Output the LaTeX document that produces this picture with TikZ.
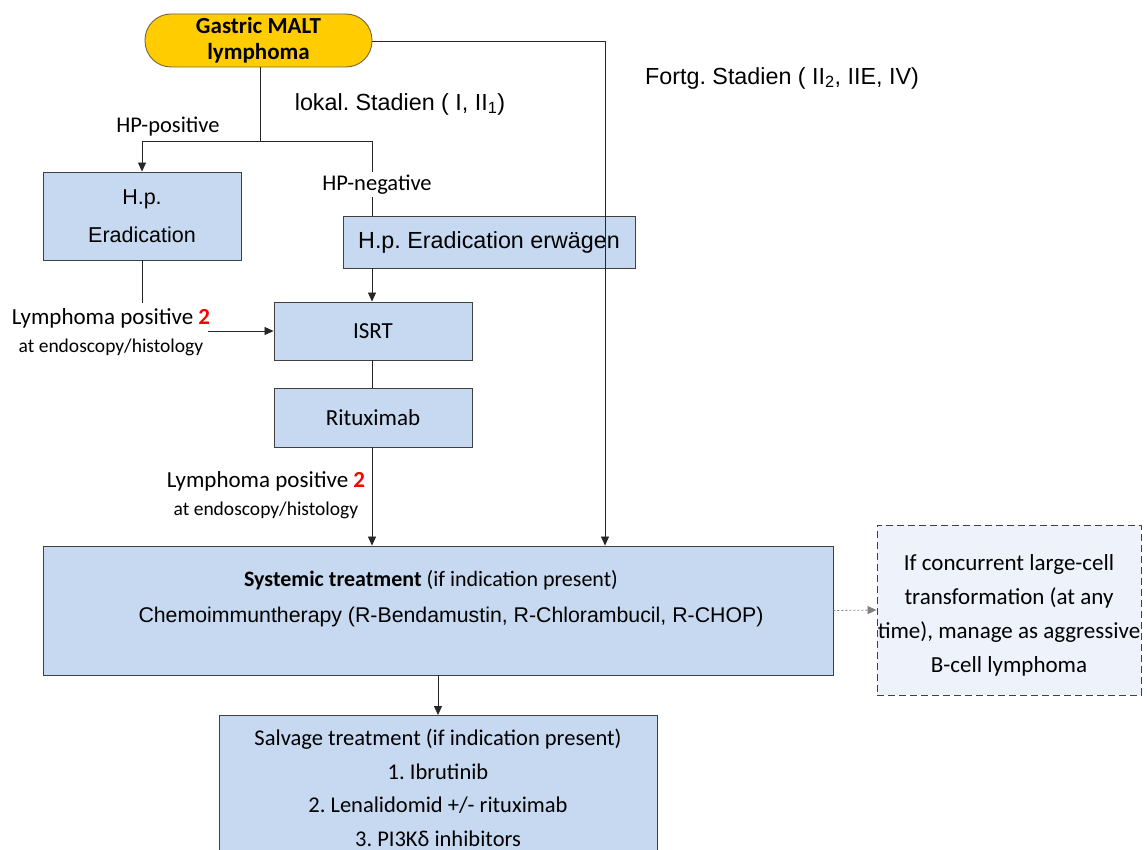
\documentclass[tikz,border=0pt]{standalone}
\usepackage{fontspec}
\setmainfont{Carlito}
\newfontfamily\arialf{Liberation Sans}
\usetikzlibrary{arrows.meta}
\definecolor{boxfill}{RGB}{198,217,240}
\definecolor{boxline}{RGB}{64,64,64}
\definecolor{pillfill}{RGB}{255,204,0}
\definecolor{pillline}{RGB}{120,100,60}
\definecolor{transfill}{RGB}{238,242,250}
\tikzset{
  box/.style={draw=boxline, fill=boxfill, line width=0.9pt, inner sep=0pt, align=center},
  pill/.style={draw=pillline, fill=pillfill, line width=0.9pt, rounded corners=26pt, inner sep=0pt, align=center, font=\fontsize{23}{26}\selectfont\bfseries},
  lbl/.style={inner sep=0pt, align=center},
  conn/.style={draw=black!85, line width=0.8pt},
  arr/.style={conn, -{Triangle[length=9pt,width=8pt]}},
}
\frenchspacing
\begin{document}
\begin{tikzpicture}[x=1pt,y=-1pt]
\useasboundingbox (0,0) rectangle (1147,850);
\clip (0,0) rectangle (1147,850);
\fill[white] (0,0) rectangle (1147,850);

% nodes
\node[pill, minimum width=227, minimum height=53] (start) at (258.5,40.5) {Gastric MALT\\lymphoma};
\node[box, minimum width=198, minimum height=88, font=\arialf\fontsize{21.5}{38}\selectfont] (hpe) at (142,216) {H.p.\\Eradication};
\node[box, minimum width=292, minimum height=52, font=\arialf\fontsize{23.3}{26}\selectfont] (erw) at (489,242) {H.p. Eradication erw\"agen};
\node[box, minimum width=198, minimum height=58, font=\fontsize{23}{26}\selectfont] (isrt) at (373,331) {ISRT};
\node[box, minimum width=198, minimum height=59, font=\fontsize{23}{26}\selectfont] (ritux) at (373,417.5) {Rituximab};
\node[box, minimum width=790, minimum height=129] (sys) at (438,610.5) {};
\node[lbl, font=\fontsize{22}{26}\selectfont] (systxt1) at (431,580) {\textbf{Systemic treatment} (if indication present)};
\node[lbl, font=\arialf\fontsize{21.3}{26}\selectfont] (systxt2) at (451,617) {Chemoimmuntherapy (R-Bendamustin, R-Chlorambucil, R-CHOP)};
\node[draw=boxline, dashed, dash pattern=on 7pt off 4pt, fill=transfill, line width=0.9pt, minimum width=264, minimum height=170, inner sep=0pt, align=center, font=\fontsize{23}{34}\selectfont] (trans) at (1009,610) {};
\node[lbl, font=\fontsize{23}{34}\selectfont] (transtxt) at (1009,615) {If concurrent large-cell\\transformation (at any\\time), manage as aggressive\\B-cell lymphoma};
\node[box, minimum width=438, minimum height=160, anchor=north] (salv) at (438,715) {};
\node[lbl, font=\fontsize{22.5}{33.5}\selectfont, anchor=north] (salvtxt) at (438,729) {Salvage treatment (if indication present)\\1. Ibrutinib\\2. Lenalidomid +/- rituximab\\3. PI3Kδ inhibitors};

% labels
\node[lbl, font=\fontsize{22.5}{26}\selectfont] (hppos) at (168,127) {HP-positive};
\node[lbl, font=\fontsize{22.5}{26}\selectfont] (hpneg) at (377,185) {HP-negative};
\node[lbl, font=\arialf\fontsize{23.3}{26}\selectfont] (lokal) at (400,104) {lokal. Stadien ( I, II\textsubscript{1})};
\node[lbl, font=\arialf\fontsize{23.3}{26}\selectfont] (fortg) at (782,78) {Fortg. Stadien ( II\textsubscript{2}, IIE, IV)};
\node[lbl, font=\fontsize{23}{28}\selectfont, anchor=north] (lp1) at (111,308) {Lymphoma positive \textcolor{red}{\textbf{2}}\\{\fontsize{19.5}{22}\selectfont at endoscopy/histology}};
\node[lbl, font=\fontsize{23}{28}\selectfont, anchor=north] (lp2) at (266,471) {Lymphoma positive \textcolor{red}{\textbf{2}}\\{\fontsize{19.5}{22}\selectfont at endoscopy/histology}};

% junction coordinates
\coordinate (j1) at (260,141);
\coordinate (j2) at (372,141);
\coordinate (j3) at (372,172);
\coordinate (j4) at (372,197);
\coordinate (f1) at (605,41);
\coordinate (lp1end) at (208,331);
\coordinate (hpeend) at (142,303);

% connectors
\draw[conn] (start.south -| j1) -- (j1);
\draw[arr] (j1) -| (hpe.north);
\draw[conn] (j1) -- (j2) -- (j3);
\draw[conn] (j4) -- (j4 |- erw.north);
\draw[arr] (erw.south -| j2) -- (isrt.north -| j2);
\draw[conn] (hpe.south) -- (hpeend);
\draw[arr] (lp1end) -- (isrt.west);
\draw[conn] (isrt.south -| j2) -- (ritux.north -| j2);
\draw[arr] (ritux.south -| j2) -- (sys.north -| j2);
\draw[arr] (start.east |- f1) -- (f1) -- (f1 |- sys.north);
\draw[arr] (sys.south) -- (salv.north);
\draw[draw=gray, dashed, dash pattern=on 2pt off 2pt, line width=0.8pt, -{Triangle[length=9pt,width=8pt]}] (sys.east) -- (trans.west);
\end{tikzpicture}
\end{document}
